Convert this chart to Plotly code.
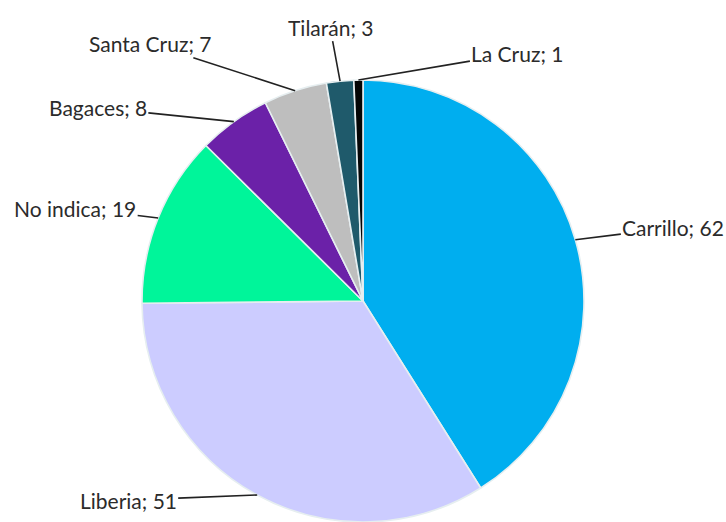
import math
import plotly.graph_objects as go

labels = ["Carrillo", "Liberia", "No indica", "Bagaces", "Santa Cruz", "Tilarán", "La Cruz"]
values = [62, 51, 19, 8, 7, 3, 1]
colors = ["#00AEEF", "#CCCCFF", "#00F59A", "#6B21A8", "#BEBEBE", "#1F5A6B", "#050505"]
# label text offsets (pixels, from slice edge point)
label_offsets = [(98, -12), (-129, 5), (-83, -10), (-136, -14), (-145, -47), (-10, -54), (159, -27)]

W, H = 726, 522
R = 221
CX, CY = 363, 301  # pie centre in pixels (from top)

fig = go.Figure(go.Pie(
    labels=labels, values=values,
    sort=False, direction="clockwise", rotation=0,
    marker=dict(colors=colors, line=dict(color="#E6EEF0", width=1.6)),
    textinfo="none", showlegend=False,
    domain=dict(x=[(CX - R) / W, (CX + R) / W], y=[0, 2 * R / H]),
))

total = sum(values)
cum = 0
annotations = []
for lab, v, (ox, oy) in zip(labels, values, label_offsets):
    mid = (cum + v / 2) / total * 2 * math.pi
    cum += v
    px = CX + R * math.sin(mid)
    py = CY - R * math.cos(mid)
    annotations.append(dict(
        x=px / W, y=1 - py / H, xref="paper", yref="paper",
        text=f"{lab}; {v}", showarrow=True, arrowhead=0, arrowwidth=1.6,
        arrowcolor="#222222", ax=ox, ay=oy, standoff=0,
        font=dict(family="Lato", size=21, color="#2b2b2b"),
    ))

fig.update_layout(
    width=W, height=H, margin=dict(l=0, r=0, t=0, b=0),
    paper_bgcolor="white", plot_bgcolor="white",
    annotations=annotations,
)
fig.write_html("out.html")
